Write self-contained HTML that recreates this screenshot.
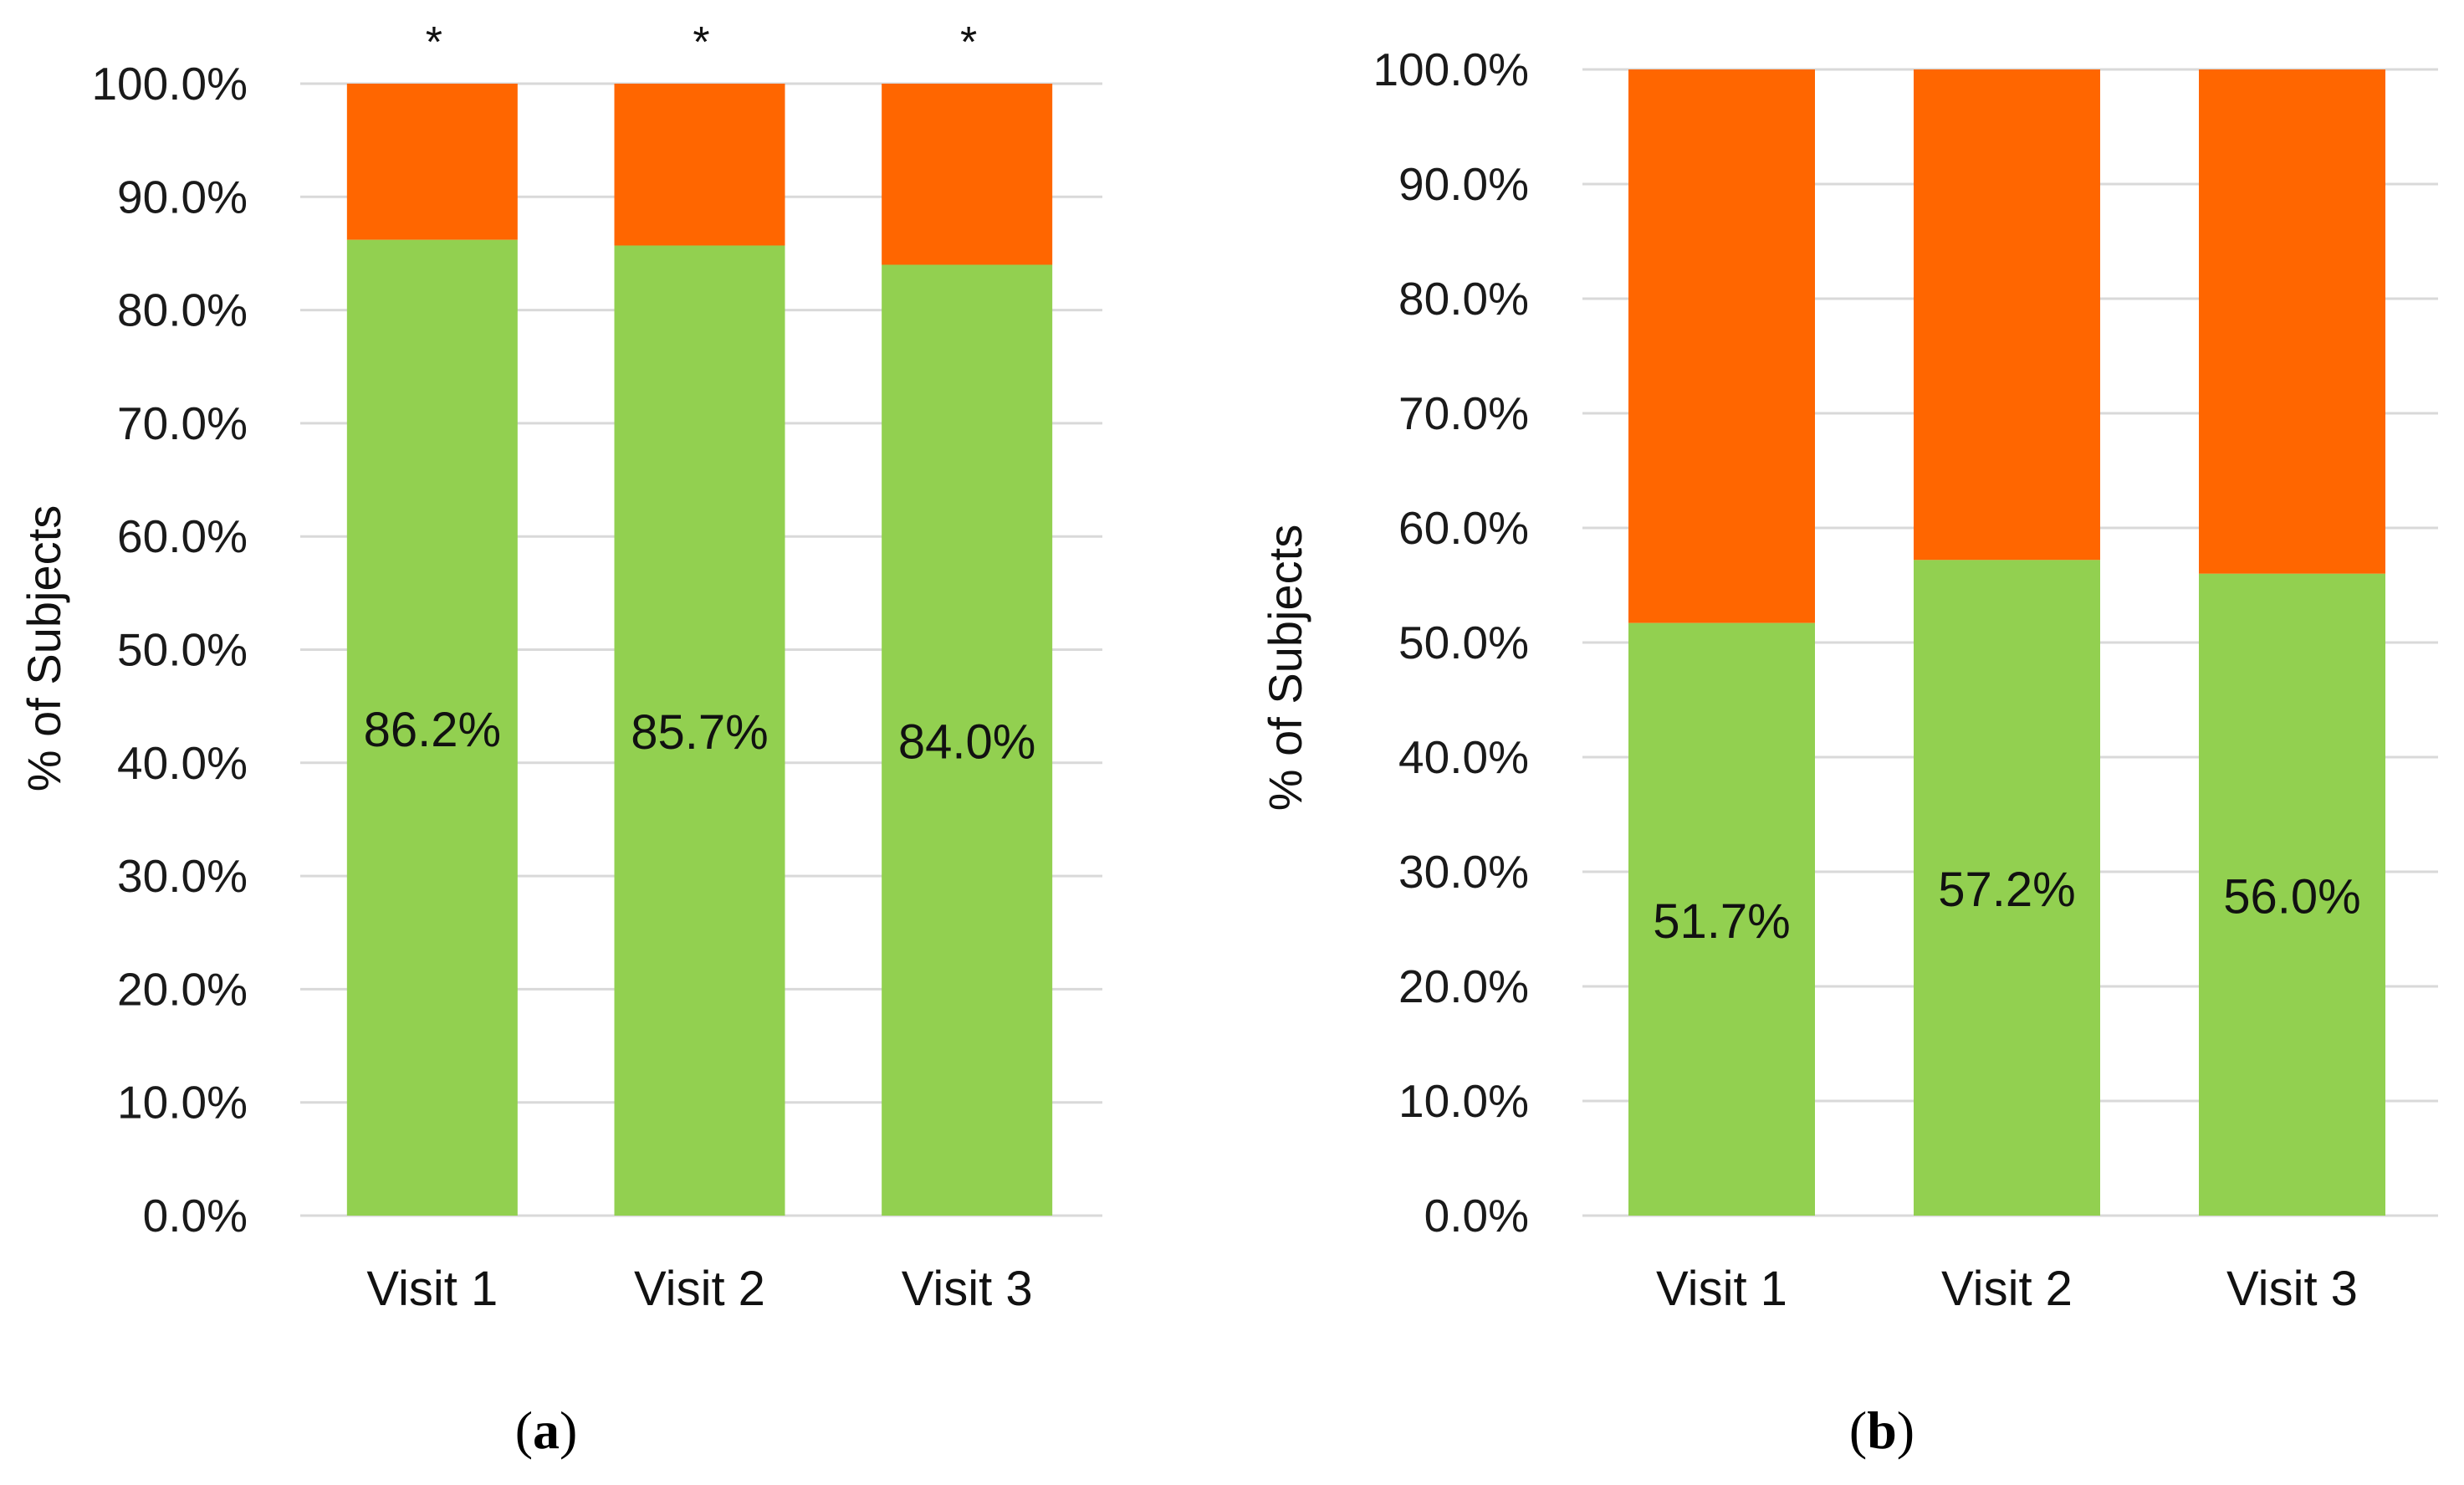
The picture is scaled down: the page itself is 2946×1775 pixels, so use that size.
<!DOCTYPE html>
<html><head><meta charset="utf-8"><style>
html,body{margin:0;padding:0;background:#fff;}
svg{display:block;}
</style></head><body>
<svg id="svg" width="2946" height="1775" viewBox="0 0 2946 1775" xmlns="http://www.w3.org/2000/svg" font-family="'Liberation Sans', sans-serif"></svg>
<script>
const categories = ["Visit 1","Visit 2","Visit 3"];
const seriesA = [86.2, 85.7, 84.0];
const seriesB = [51.7, 57.2, 56.0];
const tickValues = [0,10,20,30,40,50,60,70,80,90,100];
const starsA = ["*","*","*"];

const NS = "http://www.w3.org/2000/svg";
const svg = document.getElementById('svg');
function mk(tag, attrs, parent){
  const e = document.createElementNS(NS, tag);
  for (const k in attrs) e.setAttribute(k, attrs[k]);
  (parent||svg).appendChild(e);
  return e;
}
function drawChart(cfg){
  const g = mk('g', {});
  
  
  const y = v => cfg.y0 + (cfg.y100 - cfg.y0) * v / 100;
  const step = (cfg.gx1 - cfg.gx0) / categories.length;
  const bw = cfg.bw;
  const xc = i => cfg.gx0 + step * (i + 0.5) + cfg.shift;
  tickValues.forEach(t => {
    const l = mk('line', {x1:cfg.gx0, x2:cfg.gx1, y1:y(t), y2:y(t), stroke:'#d9d9d9', 'stroke-width':3}, g);
    
    
    const tx = mk('text', {x:cfg.tickX, y:y(t)+19, 'text-anchor':'end', 'font-size':55, fill:'#1a1a1a'}, g);
    tx.textContent = t.toFixed(1) + '%';
    
    
  });
  cfg.values.forEach((v, i) => {
    const cx = xc(i);
    const r1 = mk('rect', {x:cx-bw/2, y:y(100), width:bw, height:y(v)-y(100), fill:'#ff6600'}, g);
    
    
    const r2 = mk('rect', {x:cx-bw/2, y:y(v), width:bw, height:y(0)-y(v), fill:'#92d050'}, g);
    
    
    const lab = mk('text', {x:cx, y:y(v/2)+22, 'text-anchor':'middle', 'font-size':58, fill:'#111'}, g);
    lab.textContent = v.toFixed(1) + '%';
    
    
    const cat = mk('text', {x:cx, y:1560, 'text-anchor':'middle', 'font-size':58, fill:'#111'}, g);
    cat.textContent = categories[i];
    
    
    if (cfg.stars) {
      const s = mk('text', {x:cx+2, y:68, 'text-anchor':'middle', 'font-size':52, fill:'#111'}, g);
      s.textContent = cfg.stars[i];
      
      
    }
  });
  const yt = mk('text', {x:0, y:0, 'text-anchor':'middle', 'font-size':56, fill:'#111', transform:`translate(${cfg.titleX},${cfg.titleY}) rotate(-90)`}, g);
  yt.textContent = '% of Subjects';
  
  
  const cap = mk('text', {x:cfg.capX, y:1731, 'text-anchor':'middle', 'font-size':64, fill:'#000', 'font-family':"'Liberation Serif', serif"}, g);
  cap.innerHTML = '(<tspan font-weight="bold">' + cfg.cap + '</tspan>)';
  
  
}
drawChart({name:'chart-a', values:seriesA, y0:1453, y100:100, gx0:359, gx1:1318, bw:204, shift:-2, tickX:296, titleX:72, titleY:775, capX:653, cap:'a', stars:starsA});
drawChart({name:'chart-b', values:seriesB, y0:1453, y100:83, gx0:1892, gx1:2915, bw:223, shift:-4, tickX:1828, titleX:1556, titleY:798, capX:2250, cap:'b'});
</script>
</body></html>
